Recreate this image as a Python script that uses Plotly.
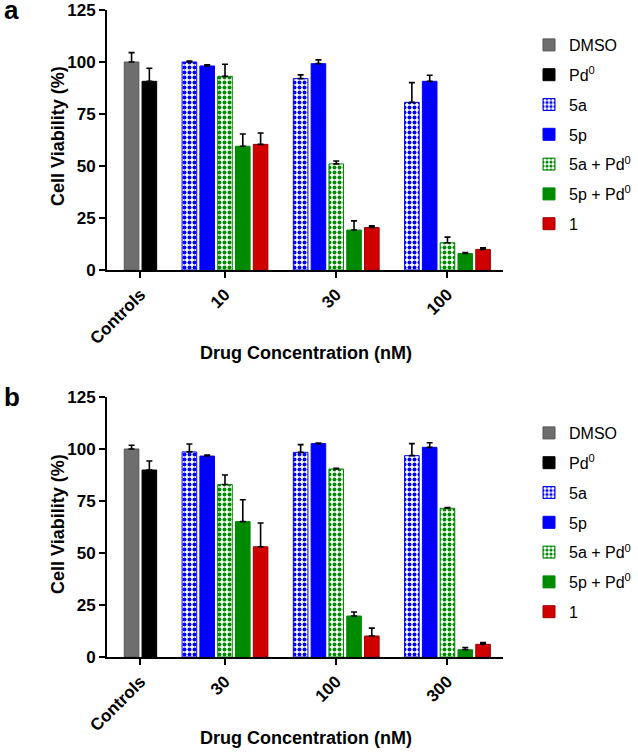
import plotly.graph_objects as go

# ---------------- data ----------------
series_names = ["DMSO", "Pd<sup>0</sup>", "5a", "5p",
                "5a + Pd<sup>0</sup>", "5p + Pd<sup>0</sup>", "1"]
groups_a = ["Controls", "10", "30", "100"]
groups_b = ["Controls", "30", "100", "300"]

# panel a (controls: DMSO, Pd0)
a_controls_mean = [100.0, 90.7]
a_controls_err = [4.5, 6.3]
a_5a_mean = [100.0, 92.0, 80.6]
a_5a_err = [0.5, 1.8, 9.5]
a_5p_mean = [98.1, 99.2, 90.7]
a_5p_err = [0.5, 1.8, 2.9]
a_5aPd_mean = [93.1, 51.0, 13.1]
a_5aPd_err = [5.8, 1.4, 2.7]
a_5pPd_mean = [59.5, 19.2, 7.9]
a_5pPd_err = [5.9, 4.4, 0.5]
a_1_mean = [60.4, 20.4, 9.9]
a_1_err = [5.5, 0.8, 0.8]

# panel b
b_controls_mean = [100.0, 89.9]
b_controls_err = [1.8, 4.3]
b_5a_mean = [98.6, 98.4, 96.8]
b_5a_err = [3.8, 3.7, 5.8]
b_5p_mean = [96.6, 102.6, 100.8]
b_5p_err = [0.5, 0.3, 2.2]
b_5aPd_mean = [82.9, 90.4, 71.5]
b_5aPd_err = [4.6, 0.3, 0.3]
b_5pPd_mean = [65.1, 19.7, 3.5]
b_5pPd_err = [10.5, 1.9, 1.0]
b_1_mean = [53.0, 10.1, 6.1]
b_1_err = [11.4, 3.8, 0.8]

y_ticks = [0, 25, 50, 75, 100, 125]

# ---------------- styles ----------------
FONT = "Arial, Liberation Sans, Helvetica, sans-serif"
W, H = 638, 753
BLUE = "#0000FF"
GREEN = "#008A00"
RED = "#D00000"
styles = [
    dict(color="#6E6E6E", line="#555555", pattern=None),
    dict(color="#000000", line="#000000", pattern=None),
    dict(color=BLUE, line=BLUE, pattern="."),
    dict(color=BLUE, line=BLUE, pattern=None),
    dict(color=GREEN, line=GREEN, pattern="."),
    dict(color=GREEN, line=GREEN, pattern=None),
    dict(color=RED, line="#A00000", pattern=None),
]

GAP = 1.25        # extra space between groups (in bar pitches)
BAR_W = 0.82
N_DRUG = 5


def drug_pos(k, j):
    return 2 + GAP + k * (N_DRUG + GAP) + j


group_centers = [0.5] + [drug_pos(k, 2) for k in range(3)]

fig = go.Figure()


def add_panel(suffix, legend_name, controls_mean, controls_err, drug_means, drug_errs):
    xa = "x" + suffix
    ya = "y" + suffix
    for i in range(2):
        st = styles[i]
        fig.add_trace(go.Bar(
            x=[i], y=[controls_mean[i]], width=BAR_W, name=series_names[i],
            xaxis=xa, yaxis=ya, legend=legend_name,
            legendgroup=legend_name + str(i),
            marker=dict(color=st["color"], line=dict(color=st["line"], width=1)),
            error_y=dict(type="data", array=[controls_err[i]], arrayminus=[0],
                         symmetric=False, color="black", thickness=1.6, width=3),
        ))
    for j in range(N_DRUG):
        st = styles[j + 2]
        marker = dict(color=st["color"], line=dict(color=st["line"], width=1))
        if st["pattern"]:
            marker["pattern"] = dict(shape=st["pattern"], fgcolor=st["color"],
                                     bgcolor="white", size=5, solidity=0.5,
                                     fillmode="replace")
        n = len(drug_means[j])
        fig.add_trace(go.Bar(
            x=[drug_pos(k, j) for k in range(n)], y=drug_means[j], width=BAR_W,
            name=series_names[j + 2], xaxis=xa, yaxis=ya, legend=legend_name,
            legendgroup=legend_name + str(j + 2),
            marker=marker,
            error_y=dict(type="data", array=drug_errs[j], arrayminus=[0] * n,
                         symmetric=False, color="black", thickness=1.6, width=3),
        ))


add_panel("", "legend", a_controls_mean, a_controls_err,
          [a_5a_mean, a_5p_mean, a_5aPd_mean, a_5pPd_mean, a_1_mean],
          [a_5a_err, a_5p_err, a_5aPd_err, a_5pPd_err, a_1_err])
add_panel("2", "legend2", b_controls_mean, b_controls_err,
          [b_5a_mean, b_5p_mean, b_5aPd_mean, b_5pPd_mean, b_1_mean],
          [b_5a_err, b_5p_err, b_5aPd_err, b_5pPd_err, b_1_err])


def px_x(p):
    return p / W


def px_y(p):
    return 1 - p / H


x_range = [-1.38, 20.87]
axis_common = dict(showline=True, linewidth=2, linecolor="black", ticks="outside",
                   ticklen=6, tickwidth=2, tickcolor="black", showgrid=False,
                   zeroline=False, mirror=False, automargin=False,
                   ticklabeloverflow="allow")
tickfont = dict(family=FONT, size=17, color="black", weight="bold")
legend_common = dict(xanchor="left", yanchor="top",
                     font=dict(family=FONT, size=16, color="black"),
                     tracegroupgap=6, traceorder="grouped",
                     bgcolor="rgba(0,0,0,0)")

fig.update_layout(
    width=W, height=H,
    margin=dict(l=0, r=0, t=0, b=0, autoexpand=False),
    paper_bgcolor="white", plot_bgcolor="white",
    font=dict(family=FONT, color="black"),
    barmode="overlay",
    xaxis=dict(domain=[px_x(107), px_x(503)], range=x_range, anchor="y",
               tickvals=group_centers, ticktext=groups_a, tickangle=-45,
               tickfont=tickfont, **axis_common),
    yaxis=dict(domain=[px_y(270), px_y(10)], range=[0, 125], anchor="x",
               tickvals=y_ticks, tickfont=tickfont, **axis_common),
    xaxis2=dict(domain=[px_x(107), px_x(503)], range=x_range, anchor="y2",
                tickvals=group_centers, ticktext=groups_b, tickangle=-45,
                tickfont=tickfont, **axis_common),
    yaxis2=dict(domain=[px_y(657), px_y(397)], range=[0, 125], anchor="x2",
                tickvals=y_ticks, tickfont=tickfont, **axis_common),
    legend=dict(x=px_x(529), y=px_y(28), **legend_common),
    legend2=dict(x=px_x(529), y=px_y(416), **legend_common),
    showlegend=True,
)

ann_font_title = dict(family=FONT, size=18, color="black", weight="bold")
annotations = [
    dict(text="a", x=px_x(2), y=px_y(27), xanchor="left", yanchor="bottom",
         font=dict(family=FONT, size=26, color="black", weight="bold")),
    dict(text="b", x=px_x(2), y=px_y(414), xanchor="left", yanchor="bottom",
         font=dict(family=FONT, size=26, color="black", weight="bold")),
    dict(text="Cell Viability (%)", x=px_x(58), y=px_y(136), textangle=-90,
         xanchor="center", yanchor="middle", font=ann_font_title),
    dict(text="Cell Viability (%)", x=px_x(58), y=px_y(524), textangle=-90,
         xanchor="center", yanchor="middle", font=ann_font_title),
    dict(text="Drug Concentration (nM)", x=px_x(306), y=px_y(353),
         xanchor="center", yanchor="middle", font=ann_font_title),
    dict(text="Drug Concentration (nM)", x=px_x(306), y=px_y(738),
         xanchor="center", yanchor="middle", font=ann_font_title),
]
for a in annotations:
    a.update(xref="paper", yref="paper", showarrow=False)
fig.update_layout(annotations=annotations)

fig.write_html("out.html", config={"displayModeBar": False},
               post_script="document.body.style.margin='0px';")
